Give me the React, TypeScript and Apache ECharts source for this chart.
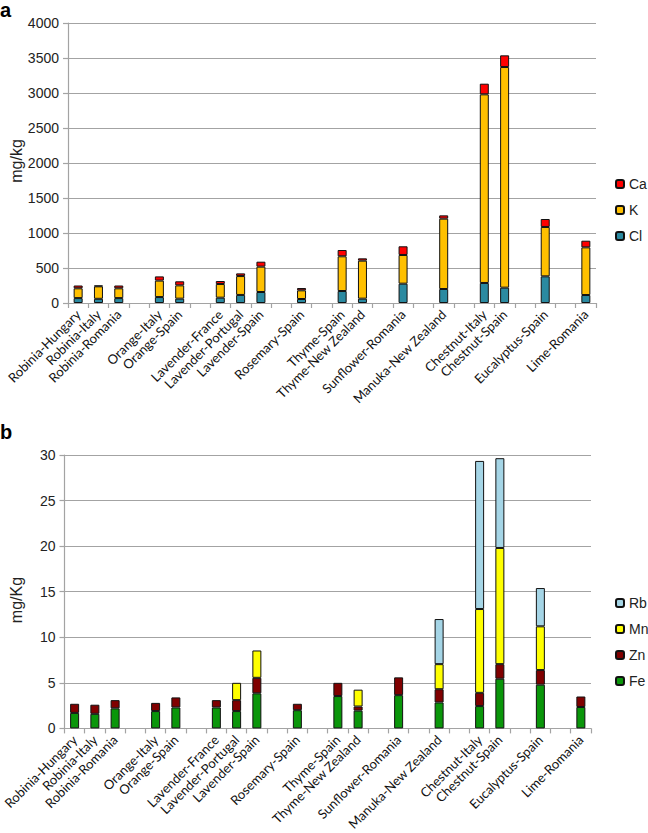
import React, { useEffect, useRef } from "react";
import * as echarts from "echarts";

const categories = [
  "Robinia-Hungary", "Robinia-Italy", "Robinia-Romania", "",
  "Orange-Italy", "Orange-Spain", "",
  "Lavender-France", "Lavender-Portugal", "Lavender-Spain", "",
  "Rosemary-Spain", "",
  "Thyme-Spain", "Thyme-New Zealand", "",
  "Sunflower-Romania", "",
  "Manuka-New Zealand", "",
  "Chestnut-Italy", "Chestnut-Spain", "",
  "Eucalyptus-Spain", "",
  "Lime-Romania",
];

// Panel a (mg/kg)
const clValues = [70, 60, 70, null, 85, 62, null, 76, 115, 157, null, 57, null, 171, 62, null, 276, null, 200, null, 286, 219, null, 381, null, 114];
const kValues = [140, 178, 140, null, 235, 190, null, 195, 270, 362, null, 124, null, 496, 543, null, 410, null, 1005, null, 2695, 3152, null, 705, null, 681];
const caValues = [40, 12, 40, null, 60, 58, null, 43, 38, 71, null, 33, null, 90, 33, null, 124, null, 47, null, 152, 167, null, 114, null, 95];

// Panel b (mg/Kg)
const feValues = [1.7, 1.6, 2.2, null, 1.9, 2.3, null, 2.3, 1.9, 3.85, null, 2.0, null, 3.55, 1.95, null, 3.65, null, 2.85, null, 2.45, 5.45, null, 4.8, null, 2.35];
const znValues = [1.0, 1.0, 0.9, null, 0.9, 1.1, null, 0.8, 1.2, 1.7, null, 0.7, null, 1.45, 0.45, null, 1.95, null, 1.45, null, 1.45, 1.6, null, 1.6, null, 1.15];
const mnValues = [null, null, null, null, null, null, null, null, 1.9, 3.0, null, null, null, null, 1.85, null, null, null, 2.75, null, 9.2, 12.75, null, 4.8, null, null];
const rbValues = [null, null, null, null, null, null, null, null, null, null, null, null, null, null, null, null, null, null, 4.95, null, 16.25, 9.85, null, 4.2, null, null];

const yTicksA = { min: 0, max: 4000, interval: 500 };
const yTicksB = { min: 0, max: 30, interval: 5 };

const GRID_COLOR = "#a3a3a3";
const FONT = "'Liberation Sans', Arial, sans-serif";
const LABEL_FONT = "Lato, 'Open Sans', sans-serif";

function xAxis(gridIndex: number) {
  return {
    type: "category",
    gridIndex,
    data: categories,
    axisLine: { lineStyle: { color: GRID_COLOR, width: 1.2 } },
    axisTick: { show: true, length: 5, lineStyle: { color: GRID_COLOR, width: 1.2 } },
    axisLabel: {
      interval: 0,
      rotate: 45,
      fontFamily: LABEL_FONT,
      fontSize: 13,
      color: "#111",
      margin: 9,
    },
  };
}

function yAxis(gridIndex: number, t: { min: number; max: number; interval: number }) {
  return {
    type: "value",
    gridIndex,
    min: t.min,
    max: t.max,
    interval: t.interval,
    axisLine: { show: true, lineStyle: { color: GRID_COLOR, width: 1.2 } },
    axisTick: { show: true, length: 5, lineStyle: { color: GRID_COLOR, width: 1.2 } },
    splitLine: { lineStyle: { color: GRID_COLOR, width: 1.2 } },
    axisLabel: {
      fontFamily: FONT,
      fontSize: 14,
      color: "#222",
      margin: 9,
      formatter: (v: number) => String(v),
    },
  };
}

function bar(name: string, data: (number | null)[], color: string, idx: number, stack: string) {
  return {
    name,
    type: "bar",
    stack,
    xAxisIndex: idx,
    yAxisIndex: idx,
    data,
    barWidth: 9,
    itemStyle: { color, borderColor: "#111", borderWidth: 1 },
  };
}

const legendText = { fontFamily: FONT, fontSize: 14, color: "#222" };

export default function App() {
  const ref = useRef<HTMLDivElement>(null);
  useEffect(() => {
    if (!ref.current) return;
    const chart = echarts.init(ref.current, undefined, { renderer: "svg" });
    chart.setOption({
      animation: false,
      backgroundColor: "#fff",
      grid: [
        { left: 68, top: 23, width: 528, height: 280 },
        { left: 61, top: 455, width: 530, height: 280 },
      ],
      xAxis: [xAxis(0), xAxis(1)],
      yAxis: [yAxis(0, yTicksA), yAxis(1, yTicksB)],
      legend: [
        {
          data: ["Ca", "K", "Cl"],
          orient: "vertical",
          left: 615,
          top: 177,
          padding: 0,
          itemWidth: 8,
          itemHeight: 8,
          itemGap: 12,
          textStyle: legendText,
        },
        {
          data: ["Rb", "Mn", "Zn", "Fe"],
          orient: "vertical",
          left: 615,
          top: 596,
          padding: 0,
          itemWidth: 8,
          itemHeight: 8,
          itemGap: 12,
          textStyle: legendText,
        },
      ],
      graphic: [
        { type: "text", left: 0, top: 0, style: { text: "a", font: `bold 20px ${FONT}`, fill: "#000" } },
        { type: "text", left: 0, top: 422, style: { text: "b", font: `bold 20px ${FONT}`, fill: "#000" } },
        {
          type: "text", x: 16, y: 161, rotation: Math.PI / 2,
          style: { text: "mg/kg", font: `16px ${FONT}`, fill: "#222", align: "center", verticalAlign: "middle" },
        },
        {
          type: "text", x: 16, y: 600, rotation: Math.PI / 2,
          style: { text: "mg/Kg", font: `16px ${FONT}`, fill: "#222", align: "center", verticalAlign: "middle" },
        },
      ],
      series: [
        bar("Cl", clValues, "#2b8aa1", 0, "a"),
        bar("K", kValues, "#ffc000", 0, "a"),
        bar("Ca", caValues, "#ff0000", 0, "a"),
        bar("Fe", feValues, "#0a960a", 1, "b"),
        bar("Zn", znValues, "#800000", 1, "b"),
        bar("Mn", mnValues, "#ffff00", 1, "b"),
        bar("Rb", rbValues, "#a5d5e6", 1, "b"),
      ],
    });
    return () => chart.dispose();
  }, []);
  return (
    <div
      ref={ref}
      style={{ position: "absolute", left: 0, top: 0, width: 648, height: 833, background: "#fff" }}
    />
  );
}
